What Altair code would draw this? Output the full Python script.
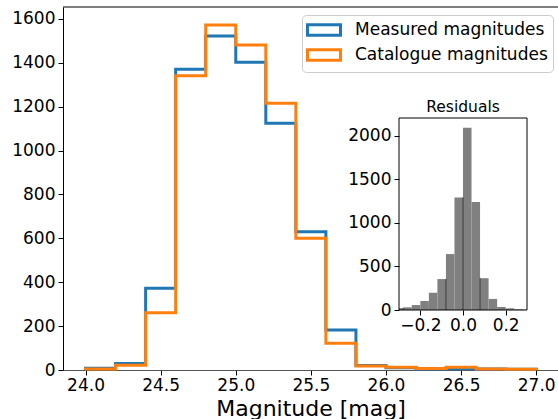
import altair as alt
import pandas as pd

# ---- main histogram data (bins of 0.2 mag) ----
bin_starts = [24.0, 24.2, 24.4, 24.6, 24.8, 25.0, 25.2, 25.4, 25.6, 25.8, 26.0, 26.2, 26.4, 26.6, 26.8]
bin_width = 0.2
measured = [8, 30, 372, 1370, 1522, 1402, 1124, 630, 182, 20, 10, 5, 6, 4, 3]
catalogue = [5, 22, 261, 1341, 1572, 1481, 1215, 600, 122, 18, 12, 7, 12, 5, 3]
series_names = ["Measured magnitudes", "Catalogue magnitudes"]
series_colors = ["#1f77b4", "#ff7f0e"]
x_ticks = [24.0, 24.5, 25.0, 25.5, 26.0, 26.5, 27.0]
y_ticks = [0, 200, 400, 600, 800, 1000, 1200, 1400, 1600]

# ---- inset residual histogram (bins of 0.04) ----
res_starts = [-0.32, -0.28, -0.24, -0.20, -0.16, -0.12, -0.08, -0.04,
              0.00, 0.04, 0.08, 0.12, 0.16, 0.20, 0.24, 0.28]
res_width = 0.04
res_counts = [22, 31, 57, 103, 198, 355, 642, 1292, 2090, 1240, 365, 127, 35, 19, 8, 3]
res_x_ticks = [-0.2, 0.0, 0.2]
res_y_ticks = [0, 500, 1000, 1500, 2000]
seam_edges = [-0.28, -0.08, 0.0, 0.08]

FONT = "DejaVu Sans"
W, H = 495, 363


def step_rows(name, counts):
    rows = [{"series": name, "x": bin_starts[0], "y": 0, "i": 0}]
    for k, c in enumerate(counts):
        rows.append({"series": name, "x": bin_starts[k], "y": c, "i": k + 1})
    end = bin_starts[-1] + bin_width
    rows.append({"series": name, "x": end, "y": counts[-1], "i": len(counts) + 1})
    rows.append({"series": name, "x": end, "y": 0, "i": len(counts) + 2})
    return rows


steps = pd.DataFrame(step_rows(series_names[0], measured) + step_rows(series_names[1], catalogue))

res_df = pd.DataFrame({
    "lo": res_starts,
    "hi": [s + res_width for s in res_starts],
    "count": res_counts,
})

seam_h = []
for e in seam_edges:
    left = [c for s, c in zip(res_starts, res_counts) if abs(s + res_width - e) < 1e-9]
    right = [c for s, c in zip(res_starts, res_counts) if abs(s - e) < 1e-9]
    seam_h.append(min(left + right))
seam_df = pd.DataFrame({"lo": seam_edges, "count": seam_h, "base": [0] * len(seam_edges)})

x_main = alt.X("x:Q", scale=alt.Scale(domain=[23.85, 27.145], nice=False, zero=False),
               axis=alt.Axis(values=x_ticks, format=".1f", title="Magnitude [mag]",
                             titleFontSize=22, titleFont=FONT, titleFontWeight="normal",
                             titleBaseline="alphabetic", titleY=45, titleColor="black",
                             labelPadding=2, domainColor="#555555"))
y_main = alt.Y("y:Q", scale=alt.Scale(domain=[0, 1654], nice=False),
               axis=alt.Axis(values=y_ticks, format="d", title=None, labelPadding=3))
color_enc = alt.Color("series:N",
                      scale=alt.Scale(domain=series_names, range=series_colors),
                      legend=alt.Legend(title=None, orient="none", legendX=239, legendY=8,
                                        symbolType="M-2,-0.63L2,-0.63L2,0.63L-2,0.63Z",
                                        symbolSize=272, symbolStrokeWidth=3,
                                        symbolFillColor="white", symbolOffset=7,
                                        labelFontSize=17, labelFont=FONT, labelColor="black",
                                        labelOffset=21, labelLimit=0, rowPadding=1, padding=5,
                                        fillColor="white", strokeColor="#cccccc",
                                        cornerRadius=4))

line_props = dict(interpolate="step-after", strokeWidth=3, strokeJoin="miter", strokeCap="butt")

blue = alt.Chart(steps).transform_filter(
    alt.datum.series == series_names[0]
).mark_line(**line_props).encode(x=x_main, y=y_main, color=color_enc, order="i:Q")

orange = alt.Chart(steps).transform_filter(
    alt.datum.series == series_names[1]
).mark_line(**line_props).encode(x=x_main, y=y_main, color=color_enc, order="i:Q")

top_spine = alt.Chart(pd.DataFrame({"a": [0]})).mark_rule(color="black", strokeWidth=1).encode(
    x=alt.value(0), x2=alt.value(W), y=alt.value(0))

main = alt.layer(blue, orange, top_spine)

# ---- inset ----
ix = alt.Scale(domain=[-0.3, 0.3], range=[336, 464], nice=False, zero=False, clamp=True)
iy = alt.Scale(domain=[0, 2203], range=[303, 111], nice=False)
ix_axis = alt.Axis(orient="bottom", offset=-60, values=res_x_ticks, format=".1f",
                   title=None, domain=False, labelPadding=2)
iy_axis = alt.Axis(orient="left", offset=-336, values=res_y_ticks, format="d", title=None,
                   domain=False, labelPadding=3)

bars = alt.Chart(res_df).mark_rect(color="#808080").encode(
    x=alt.X("lo:Q", scale=ix, axis=ix_axis),
    x2="hi:Q",
    y=alt.Y("count:Q", scale=iy, axis=iy_axis),
    y2=alt.Y2(datum=0),
)
seams = alt.Chart(seam_df).mark_rule(color="#3a3a3a", strokeWidth=1).encode(
    x=alt.X("lo:Q", scale=ix, axis=ix_axis),
    y=alt.Y("count:Q", scale=iy, axis=iy_axis),
    y2="base:Q",
)
inset = alt.layer(bars, seams)

frame = alt.Chart(pd.DataFrame({"a": [0]})).mark_rect(
    filled=False, stroke="black", strokeWidth=1
).encode(x=alt.value(336), x2=alt.value(464), y=alt.value(111), y2=alt.value(303))

inset_title = alt.Chart(pd.DataFrame({"t": ["Residuals"]})).mark_text(
    font=FONT, fontSize=15.5, color="black", align="center", baseline="alphabetic"
).encode(text="t:N", x=alt.value(400), y=alt.value(104.5))

chart = alt.layer(main, inset, frame, inset_title).resolve_scale(
    x="independent", y="independent"
).properties(
    width=W, height=H,
    autosize="none",
    padding={"left": 63, "top": 7, "right": 0, "bottom": 49},
).configure_view(stroke=None).configure_axis(
    labelFont=FONT, labelFontSize=17, labelColor="black",
    tickColor="black", tickSize=5, tickWidth=1,
    domainColor="black", domainWidth=1, grid=False,
    titleFont=FONT,
)

chart.save("out.html", embed_options={"renderer": "svg", "actions": False})
